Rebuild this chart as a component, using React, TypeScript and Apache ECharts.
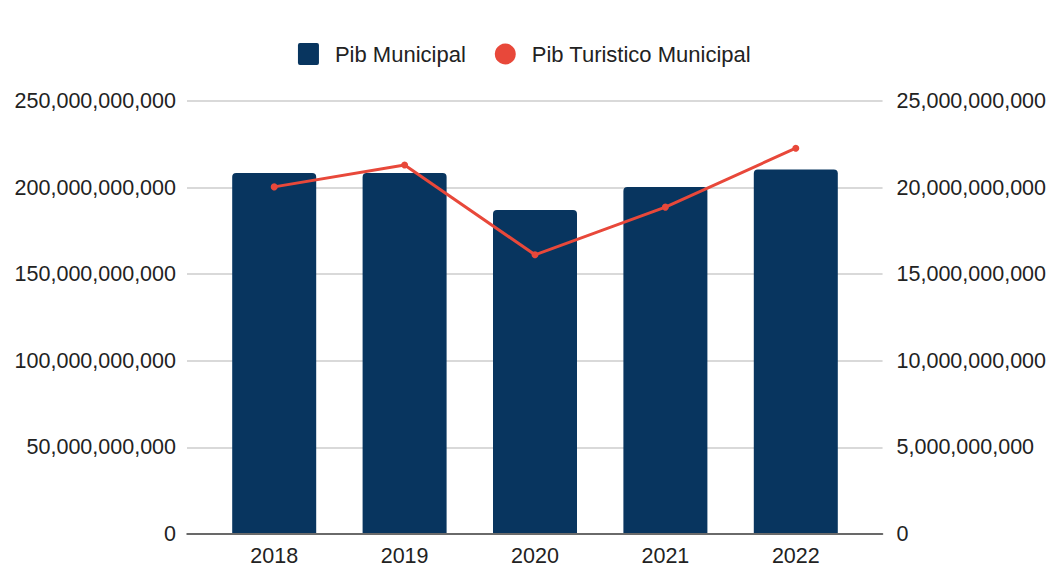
import React, { useEffect, useRef } from "react";
import * as echarts from "echarts";

const years = ["2018", "2019", "2020", "2021", "2022"];
const pibMunicipal = [208.3e9, 208.3e9, 186.9e9, 200.3e9, 210.3e9];
const pibTuristico = [20.03e9, 21.3e9, 16.1e9, 18.86e9, 22.27e9];

const fmt = (v: number) => Math.round(v).toLocaleString("en-US");
const FONT = 21.5;

export default function App() {
  const ref = useRef<HTMLDivElement>(null);
  useEffect(() => {
    document.body.style.margin = "0";
    const chart = echarts.init(ref.current!, null, { renderer: "svg" });
    chart.setOption({
      animation: false,
      textStyle: { fontFamily: "Liberation Sans, Arial, sans-serif" },
      legend: {
        top: 38,
        left: "center",
        itemWidth: 21,
        itemHeight: 22,
        itemGap: 29,
        textStyle: { fontSize: 22, color: "#222", padding: [0, 0, 0, 11] },
        data: [
          { name: "Pib Municipal", icon: "path://M2,0H19A2,2,0,0,1,21,2V20A2,2,0,0,1,19,22H2A2,2,0,0,1,0,20V2A2,2,0,0,1,2,0Z" },
          { name: "Pib Turistico Municipal", icon: "circle" },
        ],
      },
      grid: [
        { left: 187, right: 166, top: 101, bottom: 33 },
        { left: 209, right: 188, top: 101, bottom: 33 },
      ],
      xAxis: [
        {
          type: "category",
          gridIndex: 0,
          data: years,
          axisTick: { show: false },
          axisLabel: { show: false },
          axisLine: { lineStyle: { color: "#444", width: 1.5 } },
        },
        {
          type: "category",
          gridIndex: 1,
          data: years,
          axisTick: { show: false },
          axisLine: { show: false },
          axisLabel: { fontSize: FONT, color: "#222", margin: 12 },
        },
      ],
      yAxis: [
        {
          type: "value",
          gridIndex: 0,
          min: 0,
          max: 250e9,
          interval: 50e9,
          axisLine: { show: false },
          axisTick: { show: false },
          splitLine: { lineStyle: { color: "#cccccc", width: 1.5 } },
          axisLabel: { fontSize: FONT, color: "#222", margin: 11, formatter: fmt },
        },
        {
          type: "value",
          gridIndex: 0,
          position: "right",
          min: 0,
          max: 25e9,
          interval: 5e9,
          axisLine: { show: false },
          axisTick: { show: false },
          splitLine: { show: false },
          axisLabel: { fontSize: FONT, color: "#222", margin: 14, formatter: fmt },
        },
        {
          type: "value",
          gridIndex: 1,
          min: 0,
          max: 250e9,
          interval: 50e9,
          show: false,
          splitLine: { show: false },
        },
        {
          type: "value",
          gridIndex: 1,
          min: 0,
          max: 25e9,
          interval: 5e9,
          show: false,
          splitLine: { show: false },
        },
      ],
      series: [
        {
          name: "Pib Municipal",
          type: "bar",
          xAxisIndex: 1,
          yAxisIndex: 2,
          data: pibMunicipal,
          barWidth: 84,
          itemStyle: { color: "#08355f", borderRadius: [4, 4, 0, 0] },
        },
        {
          name: "Pib Turistico Municipal",
          type: "line",
          xAxisIndex: 1,
          yAxisIndex: 3,
          data: pibTuristico,
          symbol: "circle",
          symbolSize: 7,
          lineStyle: { color: "#e8483a", width: 3 },
          itemStyle: { color: "#e8483a" },
        },
      ],
    });
    return () => chart.dispose();
  }, []);
  return <div ref={ref} style={{ width: 1049, height: 567 }} />;
}
